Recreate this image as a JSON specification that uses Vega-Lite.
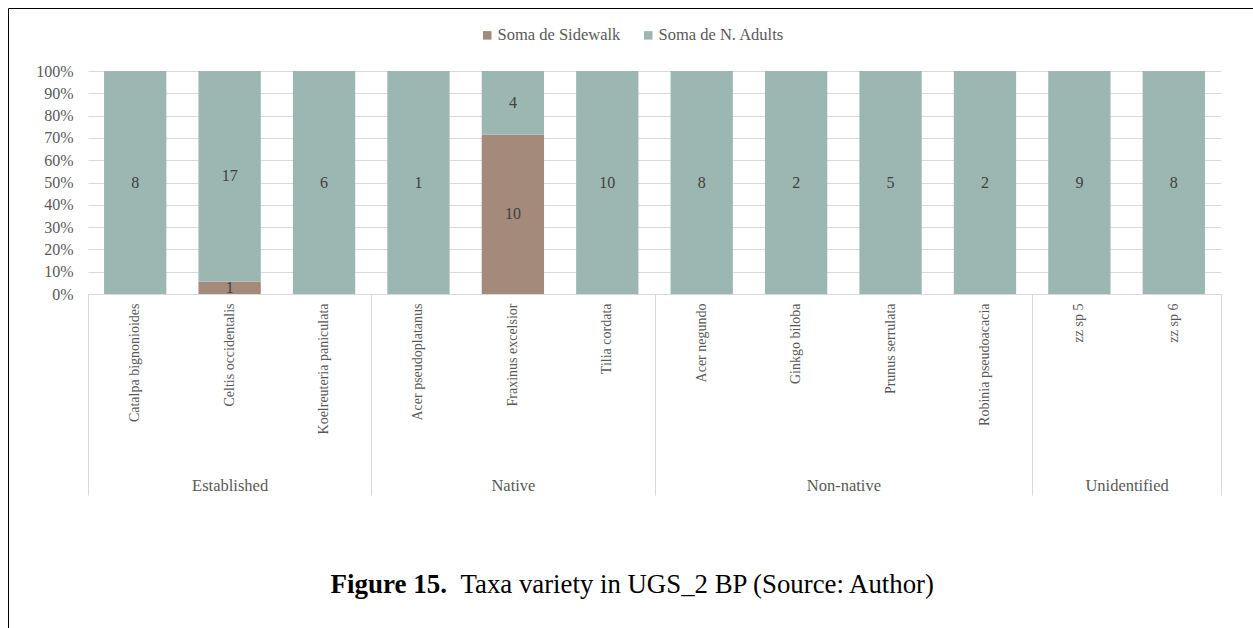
{
  "$schema": "https://vega.github.io/schema/vega-lite/v6.json",
  "width": 1133,
  "height": 223,
  "autosize": "none",
  "padding": {"left": 88, "top": 71, "right": 32, "bottom": 334},
  "background": "white",
  "config": {
    "view": {"stroke": null},
    "style": {"guide-label": {"font": "Liberation Serif"}, "guide-title": {"font": "Liberation Serif"}}
  },
  "datasets": {
    "taxa": [
      {"group": "Established", "species": "Catalpa bignonioides", "series": "Soma de Sidewalk", "count": 0},
      {"group": "Established", "species": "Catalpa bignonioides", "series": "Soma de N. Adults", "count": 8},
      {"group": "Established", "species": "Celtis occidentalis", "series": "Soma de Sidewalk", "count": 1},
      {"group": "Established", "species": "Celtis occidentalis", "series": "Soma de N. Adults", "count": 17},
      {"group": "Established", "species": "Koelreuteria paniculata", "series": "Soma de Sidewalk", "count": 0},
      {"group": "Established", "species": "Koelreuteria paniculata", "series": "Soma de N. Adults", "count": 6},
      {"group": "Native", "species": "Acer pseudoplatanus", "series": "Soma de Sidewalk", "count": 0},
      {"group": "Native", "species": "Acer pseudoplatanus", "series": "Soma de N. Adults", "count": 1},
      {"group": "Native", "species": "Fraxinus excelsior", "series": "Soma de Sidewalk", "count": 10},
      {"group": "Native", "species": "Fraxinus excelsior", "series": "Soma de N. Adults", "count": 4},
      {"group": "Native", "species": "Tilia cordata", "series": "Soma de Sidewalk", "count": 0},
      {"group": "Native", "species": "Tilia cordata", "series": "Soma de N. Adults", "count": 10},
      {"group": "Non-native", "species": "Acer negundo", "series": "Soma de Sidewalk", "count": 0},
      {"group": "Non-native", "species": "Acer negundo", "series": "Soma de N. Adults", "count": 8},
      {"group": "Non-native", "species": "Ginkgo biloba", "series": "Soma de Sidewalk", "count": 0},
      {"group": "Non-native", "species": "Ginkgo biloba", "series": "Soma de N. Adults", "count": 2},
      {"group": "Non-native", "species": "Prunus serrulata", "series": "Soma de Sidewalk", "count": 0},
      {"group": "Non-native", "species": "Prunus serrulata", "series": "Soma de N. Adults", "count": 5},
      {"group": "Non-native", "species": "Robinia pseudoacacia", "series": "Soma de Sidewalk", "count": 0},
      {"group": "Non-native", "species": "Robinia pseudoacacia", "series": "Soma de N. Adults", "count": 2},
      {"group": "Unidentified", "species": "zz sp 5", "series": "Soma de Sidewalk", "count": 0},
      {"group": "Unidentified", "species": "zz sp 5", "series": "Soma de N. Adults", "count": 9},
      {"group": "Unidentified", "species": "zz sp 6", "series": "Soma de Sidewalk", "count": 0},
      {"group": "Unidentified", "species": "zz sp 6", "series": "Soma de N. Adults", "count": 8}
    ],
    "groups": [
      {"group": "Established", "start": 0, "end": 3},
      {"group": "Native", "start": 3, "end": 6},
      {"group": "Non-native", "start": 6, "end": 10},
      {"group": "Unidentified", "start": 10, "end": 12}
    ]
  },
  "layer": [
    {
      "data": {"name": "taxa"},
      "encoding": {
        "x": {
          "field": "species", "type": "nominal", "sort": null,
          "scale": {"paddingInner": 0.34, "paddingOuter": 0.17},
          "axis": {
            "orient": "bottom", "labelAngle": -90, "labelPadding": 9, "ticks": false,
            "domainColor": "#d9d9d9", "labelFont": "Liberation Serif", "labelFontSize": 14, "labelColor": "#595959", "labelLimit": 0,
            "title": "Figure 15.", "titleFont": "Liberation Serif", "titleFontSize": 27, "titleFontWeight": "bold", "titleColor": "#000000",
            "titleX": 242, "titleY": 298, "titleAlign": "left", "titleBaseline": "alphabetic", "titleAnchor": "start"
          }
        },
        "y": {
          "field": "count", "type": "quantitative", "stack": "normalize",
          "scale": {"domain": [0, 1]},
          "axis": {
            "format": "%", "values": [0, 0.1, 0.2, 0.3, 0.4, 0.5, 0.6, 0.7, 0.8, 0.9, 1],
            "grid": true, "gridColor": "#d9d9d9", "domain": false, "ticks": false, "labelOverlap": false,
            "labelPadding": 15, "labelFont": "Liberation Serif", "labelFontSize": 16, "labelColor": "#595959", "labelDy": 2, "title": null
          }
        },
        "order": {"field": "series", "sort": "descending"}
      },
      "layer": [
        {
          "mark": {"type": "bar"},
          "encoding": {
            "color": {
              "field": "series", "type": "nominal",
              "scale": {"domain": ["Soma de Sidewalk", "Soma de N. Adults"], "range": ["#a38a7b", "#9cb7b1"]},
              "legend": {
                "orient": "none", "legendX": 391, "legendY": -44, "direction": "horizontal", "title": null,
                "symbolType": "square", "symbolSize": 72, "symbolStrokeWidth": 0,
                "labelFont": "Liberation Serif", "labelFontSize": 16.5, "labelColor": "#595959", "columnPadding": 19, "labelOffset": 2
              }
            }
          }
        },
        {
          "transform": [{"filter": "datum.count > 0"}],
          "mark": {"type": "text", "font": "Liberation Serif", "fontSize": 16, "color": "#404040"},
          "encoding": {
            "y": {"field": "count", "type": "quantitative", "stack": "normalize", "bandPosition": 0.5},
            "detail": {"field": "series"},
            "text": {"field": "count", "type": "quantitative"}
          }
        }
      ]
    },
    {
      "data": {"name": "groups"},
      "mark": {"type": "rect", "opacity": 0},
      "encoding": {
        "x": {
          "field": "start", "type": "quantitative",
          "scale": {"domain": [0, 12], "nice": false, "zero": false},
          "axis": {
            "orient": "bottom", "values": [0, 1.5, 3, 4.5, 6, 8, 10, 11, 12],
            "domain": false, "grid": false, "tickSize": 201, "tickColor": "#d9d9d9", "tickWidth": 1,
            "tickOpacity": {"condition": {"test": "indexof([0,3,6,10,12], datum.value) >= 0", "value": 1}, "value": 0},
            "labelExpr": "datum.value == 1.5 ? 'Established' : datum.value == 4.5 ? 'Native' : datum.value == 8 ? 'Non-native' : datum.value == 11 ? 'Unidentified' : ''",
            "labelPadding": -18, "labelFont": "Liberation Serif", "labelFontSize": 16.5, "labelColor": "#595959",
            "labelFlush": false, "labelOverlap": false, "labelBound": false,
            "title": "Taxa variety in UGS_2 BP (Source: Author)", "titleFont": "Liberation Serif", "titleFontSize": 26.8, "titleFontWeight": "normal",
            "titleColor": "#000000", "titleX": 372, "titleY": 298, "titleAlign": "left", "titleBaseline": "alphabetic", "titleAnchor": "start"
          }
        },
        "x2": {"field": "end"},
        "stroke": {
          "datum": "frame",
          "scale": {"range": ["#000000"]},
          "legend": {
            "orient": "none", "legendX": -80, "legendY": -63, "title": null,
            "strokeColor": "#000000", "padding": 900, "symbolOpacity": 0, "labelOpacity": 0, "labelExpr": "''",
            "encode": {"legend": {"update": {"strokeWidth": {"value": 1.5}}}}
          }
        }
      }
    }
  ],
  "resolve": {"scale": {"x": "independent"}, "axis": {"x": "independent"}}
}
